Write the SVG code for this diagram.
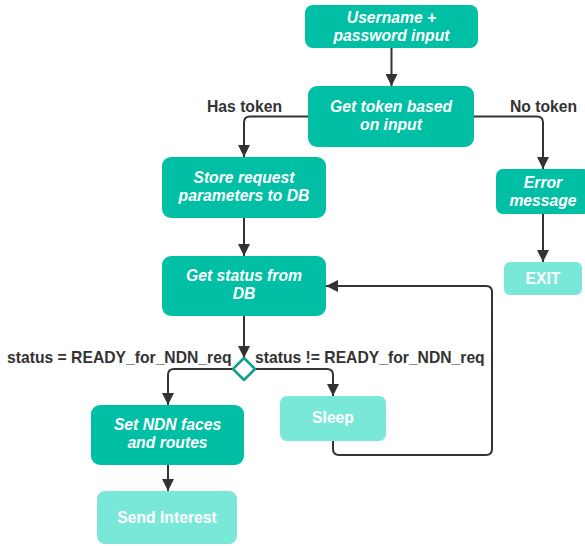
<svg xmlns="http://www.w3.org/2000/svg" width="585" height="546" viewBox="0 0 585 546">
<defs>
<marker id="ah" markerUnits="userSpaceOnUse" markerWidth="12" markerHeight="12" refX="10" refY="5" orient="auto" viewBox="0 0 10 10">
<path d="M0,0 L10,5 L0,10 Z" fill="#333333"/>
</marker>
<style>
.dk{fill:#00bfa5;}
.lt{fill:#7ae8d9;}
.t{font-family:"Liberation Sans",Arial,sans-serif;font-size:15.7px;font-weight:bold;fill:#ffffff;text-anchor:middle;}
.it{font-style:italic;}
.lbl{font-family:"Liberation Sans",Arial,sans-serif;font-size:15.7px;font-weight:bold;fill:#333333;}
.c{fill:none;stroke:#333333;stroke-width:2;marker-end:url(#ah);}
</style>
</defs>
<rect width="585" height="546" fill="#ffffff"/>
<g id="connectors">
<path class="c" d="M391.5,48 V86"/>
<path class="c" d="M308,116.5 H250 Q244,116.5 244,122.5 V157"/>
<path class="c" d="M474,116.5 H537 Q543,116.5 543,122.5 V169"/>
<path class="c" d="M244,218 V256"/>
<path class="c" d="M244,316 V358"/>
<path class="c" d="M233,369 H174 Q168,369 168,375 V405"/>
<path class="c" d="M255,369 H327 Q333,369 333,375 V396"/>
<path class="c" d="M333,441 V449 Q333,455 339,455 H486 Q492,455 492,449 V292 Q492,286 486,286 H326"/>
<path class="c" d="M168,465 V491"/>
<path class="c" d="M543,214 V262"/>
<text class="lbl" x="244.5" y="112" text-anchor="middle">Has token</text>
<text class="lbl" x="543.5" y="112" text-anchor="middle">No token</text>
<text class="lbl" x="7" y="363">status = READY_for_NDN_req</text>
<text class="lbl" x="255" y="363">status != READY_for_NDN_req</text>
</g>
<g id="n1"><rect class="dk" x="305" y="5" width="173" height="43" rx="8"/><text class="t it" x="391.5" y="23">Username +</text><text class="t it" x="391.5" y="41">password input</text></g>
<g id="n2"><rect class="dk" x="308" y="86" width="166" height="61" rx="9"/><text class="t it" x="391" y="112">Get token based</text><text class="t it" x="391" y="130">on input</text></g>
<g id="n3"><rect class="dk" x="162" y="157" width="164" height="61" rx="9"/><text class="t it" x="244" y="183">Store request</text><text class="t it" x="244" y="201">parameters to DB</text></g>
<g id="n4"><rect class="dk" x="162" y="256" width="164" height="60" rx="9"/><text class="t it" x="244" y="281">Get status from</text><text class="t it" x="244" y="299">DB</text></g>
<g id="n5"><rect class="dk" x="496" y="169" width="94" height="45" rx="7"/><text class="t it" x="543" y="188">Error</text><text class="t it" x="543" y="206">message</text></g>
<g id="n6"><rect class="lt" x="504" y="262" width="78" height="33" rx="6"/><text class="t" x="543" y="284">EXIT</text></g>
<g id="dec"><polygon points="244,358 255,369 244,380 233,369" fill="#ffffff" stroke="#0f9e8a" stroke-width="2.5" stroke-linejoin="round"/></g>
<g id="n7"><rect class="dk" x="91" y="405" width="153" height="60" rx="9"/><text class="t it" x="167.5" y="430">Set NDN faces</text><text class="t it" x="167.5" y="448">and routes</text></g>
<g id="n8"><rect class="lt" x="280" y="396" width="106" height="45" rx="7"/><text class="t" x="333" y="423">Sleep</text></g>
<g id="n9"><rect class="lt" x="97" y="491" width="140" height="53" rx="8"/><text class="t" x="167" y="523">Send Interest</text></g>
</svg>
